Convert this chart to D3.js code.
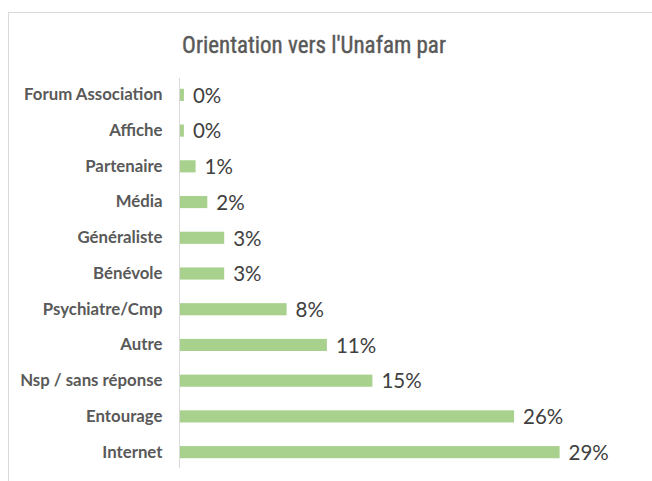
<!DOCTYPE html>
<html>
<head>
<meta charset="utf-8">
<script src="https://cdn.jsdelivr.net/npm/d3@7"></script>
<style>
html,body{margin:0;padding:0;background:#fff;}
svg{display:block;}
</style>
</head>
<body>
<svg id="chart" width="652" height="481"></svg>
<script>
const title = "Orientation vers l'Unafam par";
const categories = ["Forum Association","Affiche","Partenaire","Média","Généraliste","Bénévole","Psychiatre/Cmp","Autre","Nsp / sans réponse","Entourage","Internet"];
const values = [0.003,0.003,0.012,0.021,0.034,0.034,0.082,0.113,0.148,0.257,0.292];

const W = 652, H = 481;
const svg = d3.select("#chart");

svg.append("rect").attr("x",8.5).attr("y",12.5).attr("width",700).attr("height",500)
  .attr("fill","#fff").attr("stroke","#d9d9d9").attr("stroke-width",1);

svg.append("text").attr("x",314).attr("y",53).attr("text-anchor","middle")
  .attr("font-family","'Liberation Sans Narrow','Arial Narrow','Roboto Condensed',sans-serif")
  .attr("font-weight","normal")
  .attr("font-size",23).attr("fill","#595959")
  .attr("stroke","#595959").attr("stroke-width",0.4).text(title);

const x0 = 180;
const x = d3.scaleLinear().domain([0,0.30]).range([x0, x0 + 0.30*1300]);
const y = d3.scaleBand().domain(categories).range([77, 470]).paddingInner(0.66).paddingOuter(0.33);

svg.selectAll("rect.bar").data(categories).enter().append("rect").attr("class","bar")
  .attr("x", x(0)).attr("y", d=>y(d))
  .attr("width", (d,i)=>x(values[i])-x(0)).attr("height", y.bandwidth())
  .attr("fill","#a9d18e");

const fmt = d3.format(".0%");
svg.selectAll("text.val").data(categories).enter().append("text").attr("class","val")
  .attr("x",(d,i)=>x(values[i])+9).attr("y",d=>y(d)+y.bandwidth()/2)
  .attr("dy","0.38em").attr("font-family","Lato, sans-serif").attr("font-size",20.5)
  .attr("fill","#404040").text((d,i)=>fmt(values[i]));

const axis = d3.axisLeft(y).tickSize(0).tickPadding(17);
const g = svg.append("g").attr("transform",`translate(${x0 - 0.5},0)`).call(axis);
g.select(".domain").attr("stroke","#d9d9d9").attr("d","M0,78V468");
g.selectAll("text").attr("font-family","Lato, sans-serif").attr("font-weight","bold")
  .attr("font-size",16.8).attr("fill","#595959");
</script>
</body>
</html>
